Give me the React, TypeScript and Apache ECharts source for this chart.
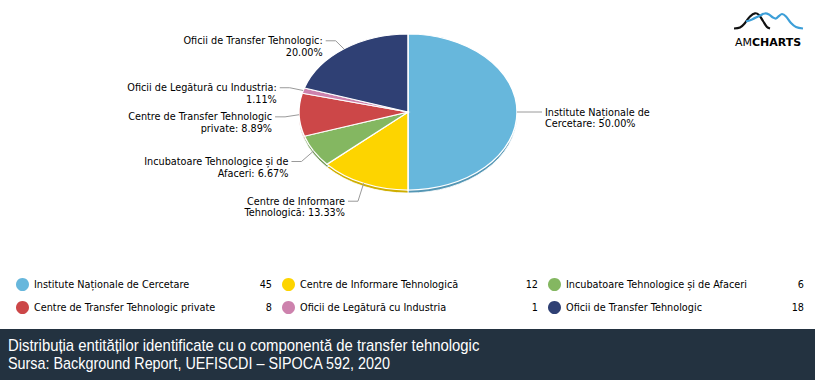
import React, { useEffect, useRef } from "react";
import * as echarts from "echarts";

const categories = [
  "Institute Naționale de Cercetare",
  "Centre de Informare Tehnologică",
  "Incubatoare Tehnologice și de Afaceri",
  "Centre de Transfer Tehnologic private",
  "Oficii de Legătură cu Industria",
  "Oficii de Transfer Tehnologic",
];
const values = [45, 12, 6, 8, 1, 18];
const colors = ["#67b7dc", "#fdd400", "#84b761", "#cc4748", "#cd82ad", "#2f4074"];
// number of words placed on the first line of each slice label
const labelFirstLineWords = [3, 3, 4, 4, 5, 4];
const captionLines = [
  "Distribuția entităților identificate cu o componentă de transfer tehnologic",
  "Sursa: Background Report, UEFISCDI – SIPOCA 592, 2020",
];

const CX = 408;
const CY = 112;
const RX = 109;
const RY = 78;
const DEPTH = 3;
const LABEL_FONT = "DejaVu Sans";
const LABEL_SIZE = 9.7;
const CAPTION_FONT = "'Liberation Sans', Arial, sans-serif";
const CAPTION_WIDTHS = [472, 383];

function darken(hex: string, f: number) {
  const n = parseInt(hex.slice(1), 16);
  const r = Math.round(((n >> 16) & 255) * f);
  const g = Math.round(((n >> 8) & 255) * f);
  const b = Math.round((n & 255) * f);
  return `rgb(${r},${g},${b})`;
}

export default function App() {
  const ref = useRef<HTMLDivElement>(null);
  useEffect(() => {
    document.body.style.margin = "0";
    const chart = echarts.init(ref.current!, null, { renderer: "svg" });
    const total = values.reduce((a, b) => a + b, 0);
    const k = RY / RX;

    // condensed caption: measure natural width, squeeze to the target width
    const capScales = [0.84, 0.84];
    try {
      const ctx = document.createElement("canvas").getContext("2d");
      if (ctx) {
        ctx.font = `16px ${CAPTION_FONT}`;
        captionLines.forEach((line, j) => {
          const w = ctx.measureText(line).width;
          if (w > 0) capScales[j] = CAPTION_WIDTHS[j] / w;
        });
      }
    } catch (e) {}

    const series = categories.map((name, i) => ({
      type: "custom",
      name,
      coordinateSystem: "none",
      itemStyle: { color: colors[i] },
      data: [values[i]],
      renderItem: (params: any, api: any) => {
        const v = api.value(0);
        const before = values.slice(0, i).reduce((a, b) => a + b, 0);
        const a0 = -Math.PI / 2 + (2 * Math.PI * before) / total;
        const a1 = a0 + (2 * Math.PI * v) / total;
        const mid = (a0 + a1) / 2;
        const dx = Math.cos(mid);
        const dy = Math.sin(mid);
        const ex = CX + RX * dx;
        const ey = CY + RY * dy;
        const L = 14;
        const bx = CX + (RX + L) * dx;
        const by = CY + (RX + L) * k * dy + (dy > 0 ? 8 * dy + 1.5 : 0);
        const left = dx < 0;
        const hx = left ? bx - 10 : bx + 11;
        const pct = ((v / total) * 100).toFixed(2);
        const words = `${name}: ${pct}%`.split(" ");
        const n = labelFirstLineWords[i];
        const text = words.slice(0, n).join(" ") + "\n" + words.slice(n).join(" ");
        const lh = 11.5;
        return {
          type: "group",
          children: [
            {
              type: "sector",
              shape: { cx: CX, cy: CY + DEPTH, r: RX, r0: 0, startAngle: a0, endAngle: a1, clockwise: true },
              scaleY: k,
              originX: CX,
              originY: CY + DEPTH,
              style: { fill: darken(colors[i], 0.82), stroke: "#ffffff", lineWidth: 1, strokeNoScale: true },
              z2: 1,
            },
            {
              type: "sector",
              shape: { cx: CX, cy: CY, r: RX, r0: 0, startAngle: a0, endAngle: a1, clockwise: true },
              scaleY: k,
              originX: CX,
              originY: CY,
              style: { fill: colors[i], stroke: "#ffffff", lineWidth: 1.5, strokeNoScale: true },
              z2: 10,
            },
            {
              type: "polyline",
              shape: { points: [[ex, ey], [bx, by], [hx, by]] },
              style: { stroke: "#9a9a9a", fill: null, lineWidth: 1 },
              z2: 20,
            },
            {
              type: "text",
              x: left ? hx - 3 : hx + 3,
              y: by - lh / 2,
              style: {
                text,
                fill: "#000000",
                fontFamily: LABEL_FONT,
                fontSize: LABEL_SIZE,
                lineHeight: lh,
                align: left ? "right" : "left",
                verticalAlign: "top",
              },
              z2: 20,
            },
          ],
        };
      },
    }));

    const option: any = {
      animation: false,
      backgroundColor: "#ffffff",
      legend: {
        data: categories,
        left: 16,
        top: 278,
        width: 792,
        padding: 0,
        icon: "circle",
        itemWidth: 13,
        itemHeight: 13,
        itemGap: 10,
        formatter: (name: string) => `{n|${name}}{v|${values[categories.indexOf(name)]}}`,
        textStyle: {
          color: "#000000",
          fontFamily: LABEL_FONT,
          fontSize: LABEL_SIZE,
          rich: {
            n: { width: 218, color: "#000000", fontFamily: LABEL_FONT, fontSize: LABEL_SIZE },
            v: { width: 20, align: "right", color: "#000000", fontFamily: LABEL_FONT, fontSize: LABEL_SIZE },
          },
        },
      },
      series,
      graphic: [
        {
          type: "rect",
          left: 0,
          top: 329,
          shape: { width: 815, height: 51 },
          style: { fill: "#233240" },
          silent: true,
        },
        {
          type: "text",
          x: 8,
          y: 345,
          scaleX: capScales[0],
          style: {
            text: captionLines[0],
            fill: "#ffffff",
            fontFamily: CAPTION_FONT,
            fontSize: 16,
            verticalAlign: "middle",
          },
        },
        {
          type: "text",
          x: 8,
          y: 363,
          scaleX: capScales[1],
          style: {
            text: captionLines[1],
            fill: "#ffffff",
            fontFamily: CAPTION_FONT,
            fontSize: 16,
            verticalAlign: "middle",
          },
        },
        {
          type: "polyline",
          shape: {
            points: [[734, 28.5], [740, 27.5], [745, 23], [750, 16.5], [755, 13.3], [759, 15], [763, 21], [767, 27], [770, 28.5]],
            smooth: 0.35,
          },
          style: { stroke: "#111111", lineWidth: 2.2, fill: null },
        },
        {
          type: "polyline",
          shape: {
            points: [[746, 21.5], [752, 19.5], [759, 16], [765, 13.5], [769, 14.5], [773, 17.5], [776, 18.5], [779, 16], [782, 14], [786, 16.5], [791, 23], [796, 27], [803, 28.5]],
            smooth: 0.35,
          },
          style: { stroke: "#3d9fd8", lineWidth: 2.2, fill: null },
        },
        {
          type: "text",
          x: 735,
          y: 42,
          style: {
            text: "{a|AM}{b|CHARTS}",
            verticalAlign: "middle",
            rich: {
              a: { fontFamily: "DejaVu Sans", fontSize: 11, color: "#222222" },
              b: { fontFamily: "DejaVu Sans", fontSize: 11, fontWeight: "bold", color: "#222222" },
            },
          },
        },
      ],
    };
    chart.setOption(option);
    return () => chart.dispose();
  }, []);
  return (
    <div
      ref={ref}
      style={{ position: "fixed", left: 0, top: 0, width: 815, height: 380, background: "#ffffff" }}
    />
  );
}
